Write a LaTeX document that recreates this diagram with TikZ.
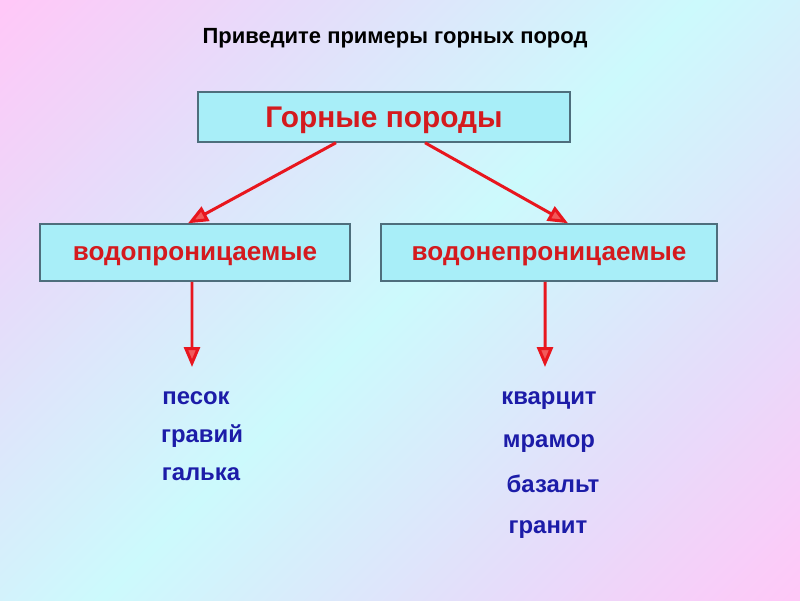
\documentclass[tikz,border=0pt]{standalone}
\usepackage{fontspec}
\setmainfont{Liberation Sans}
\usepackage{tikz}
\usetikzlibrary{arrows.meta}
\definecolor{bgpink}{HTML}{FFC8F8}
\definecolor{bglav}{HTML}{E6DCFA}
\definecolor{bgcyan}{HTML}{CCFAFC}
\definecolor{boxfill}{HTML}{A8EEF8}
\definecolor{boxline}{HTML}{4E6E7C}
\definecolor{rockred}{HTML}{D41A1E}
\definecolor{linered}{HTML}{E8161E}
\definecolor{tipfill}{HTML}{F25A5A}
\definecolor{rockblue}{HTML}{1C1CA8}
\pgfdeclarehorizontalshading{bgshade}{100bp}{color(0bp)=(bgpink); color(15bp)=(bgpink); color(30bp)=(bglav); color(50bp)=(bgcyan); color(70bp)=(bglav); color(85bp)=(bgpink); color(100bp)=(bgpink)}
\tikzstyle{title} = [font=\bfseries\fontsize{12.5}{15}\selectfont, text=black, anchor=base, inner sep=0pt]
\tikzstyle{topbox} = [rectangle, draw=boxline, line width=0.85pt, fill=boxfill, minimum width=7.44cm, minimum height=1cm, text height=0.4cm, text depth=0cm, inner sep=0pt, text=rockred, font=\bfseries\fontsize{17}{20}\selectfont]
\tikzstyle{kindbox} = [topbox, minimum height=1.14cm, text height=0.3cm, font=\bfseries\fontsize{14.85}{17}\selectfont]
\tikzstyle{rock} = [text=rockblue, anchor=base, inner sep=0pt, font=\bfseries\fontsize{13.6}{16}\selectfont]
\tikzstyle{arrow} = [line width=1.7pt, draw=linered, -{Triangle[length=0.4cm, width=0.32cm, fill=tipfill]}]

\begin{document}
\begin{tikzpicture}[x=0.02cm, y=-0.02cm]
    \shade [shading=bgshade, shading angle=-45] (0,0) rectangle (800,600);
    \useasboundingbox (0,0) rectangle (800,600);
    \node (head) [title] at (395,43) {Приведите примеры горных пород};
    \node (rocks) [topbox] at (384,117) {Горные породы};
    \node (perm) [kindbox, minimum width=6.2cm] at (195,252.5) {водопроницаемые};
    \node (imperm) [kindbox, minimum width=6.72cm] at (549,252.5) {водонепроницаемые};
    \draw [arrow] ([xshift=-0.96cm]rocks.south) -- ([xshift=-0.14cm]perm.north);
    \draw [arrow] ([xshift=0.82cm]rocks.south) -- ([xshift=0.38cm]imperm.north);
    % examples under each kind
    \coordinate (permend) at (192,367);
    \coordinate (impermend) at (545,367);
    \draw [arrow] ([xshift=-0.06cm]perm.south) -- (permend);
    \draw [arrow] ([xshift=-0.08cm]imperm.south) -- (impermend);
    \node (sand) [rock] at (196,404) {песок};
    \node (gravel) [rock] at (202,442) {гравий};
    \node (pebble) [rock] at (201,480) {галька};
    \node (quartzite) [rock] at (549,404) {кварцит};
    \node (marble) [rock] at (549,447) {мрамор};
    \node (basalt) [rock] at (553,492) {базальт};
    \node (granite) [rock] at (548,533) {гранит};
\end{tikzpicture}
\end{document}
